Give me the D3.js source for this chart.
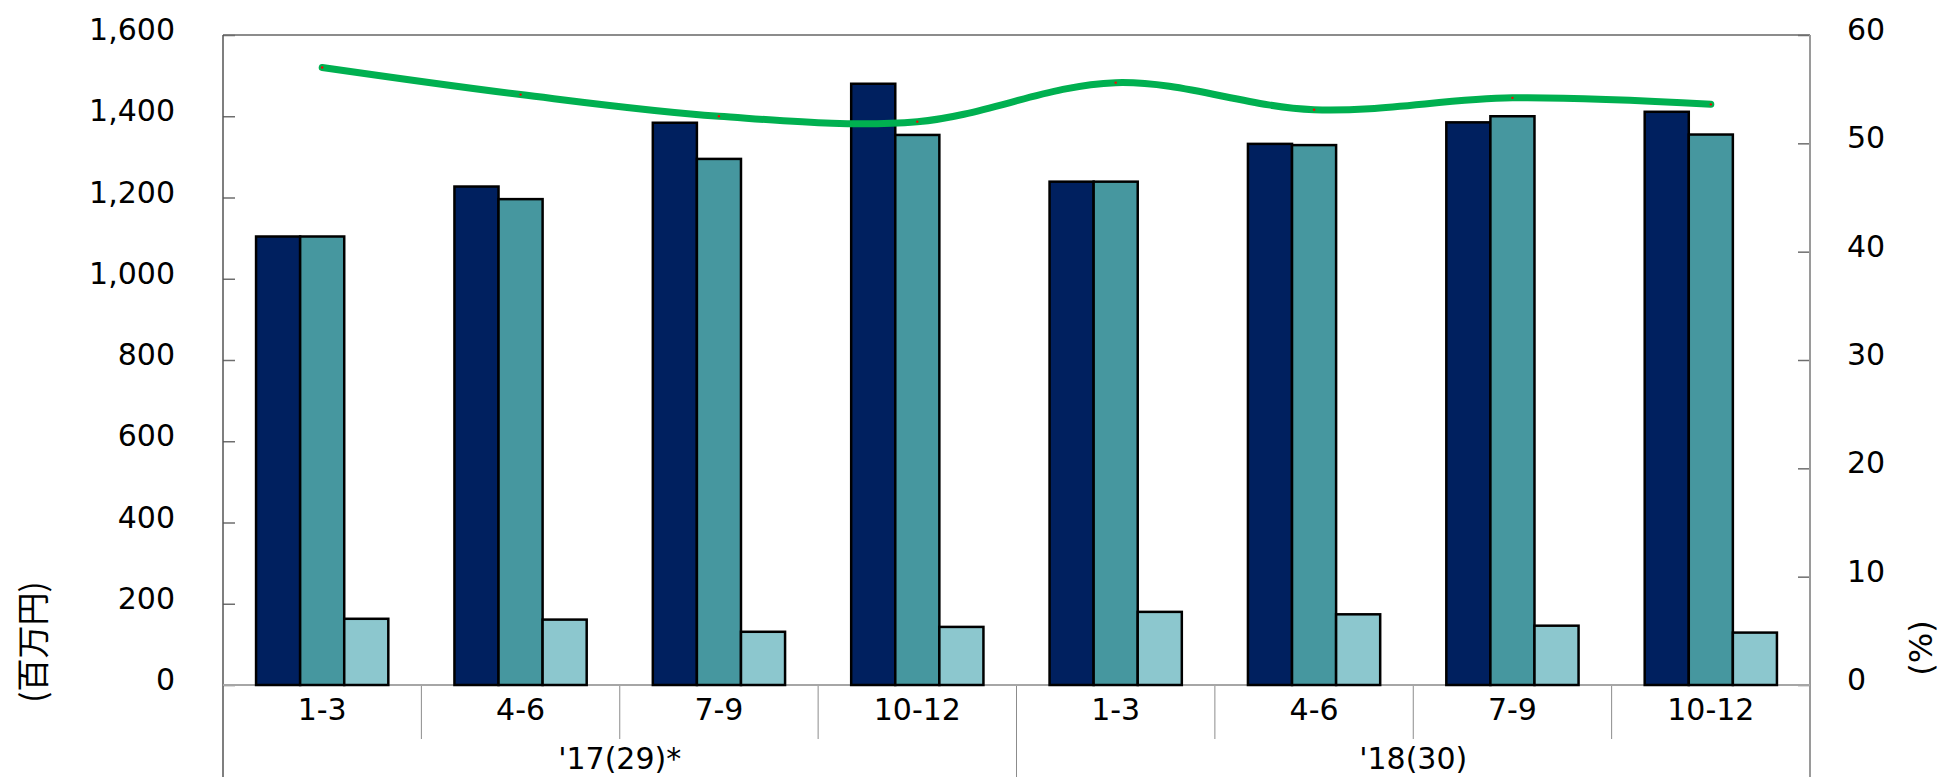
<!DOCTYPE html>
<html>
<head>
<meta charset="utf-8">
<script src="https://cdn.jsdelivr.net/npm/d3@7/dist/d3.min.js"></script>
<style>
  body { margin: 0; background: #fff; }
  text { font-family: "DejaVu Sans", Verdana, sans-serif; fill: #000; }
  .jp { font-family: "Noto Sans CJK JP", sans-serif; }
</style>
</head>
<body>
<div id="chart"></div>
<script>
// chart data
var quarters = ["1-3", "4-6", "7-9", "10-12", "1-3", "4-6", "7-9", "10-12"];
var years = ["'17(29)*", "'18(30)"];
var seriesA = [1104, 1227, 1384, 1480, 1239, 1332, 1385, 1411];
var seriesB = [1104, 1196, 1295, 1354, 1239, 1329, 1400, 1355];
var seriesC = [163, 161, 131, 143, 180, 174, 146, 129];
var ratio = [57.0, 54.5, 52.5, 52.0, 55.6, 53.1, 54.2, 53.6];
var leftTicks = [0, 200, 400, 600, 800, 1000, 1200, 1400, 1600];
var rightTicks = [0, 10, 20, 30, 40, 50, 60];

var svgWidth = 1942;
var svgHeight = 777;

var margin = { top: 35, right: 132, bottom: 92, left: 223 };
var width = svgWidth - margin.left - margin.right;
var height = svgHeight - margin.top - margin.bottom;

var colors = ["#00205f", "#46979f", "#8cc7ce"];

var svg = d3.select("#chart")
  .append("svg")
  .attr("width", svgWidth)
  .attr("height", svgHeight);

var chartGroup = svg.append("g")
  .attr("transform", `translate(${margin.left}, ${margin.top})`);

// scales
var x0 = d3.scaleBand()
  .domain(d3.range(quarters.length))
  .range([0, width])
  .padding(0);

var x1 = d3.scaleBand()
  .domain([0, 1, 2])
  .range([0, x0.bandwidth()])
  .paddingInner(0)
  .paddingOuter(0.75);

var yLeft = d3.scaleLinear().domain([0, 1600]).range([height, 0]);
var yRight = d3.scaleLinear().domain([0, 60]).range([height, 0]);

// frame: top border
chartGroup.append("line")
  .attr("x1", 0).attr("x2", width)
  .attr("y1", 0).attr("y2", 0)
  .attr("stroke", "#8c8c8c")
  .attr("stroke-width", 2);

// left axis
var leftAxis = d3.axisLeft(yLeft)
  .tickValues(leftTicks)
  .tickSize(-12)
  .tickPadding(48)
  .tickFormat(d3.format(","));

var gLeft = chartGroup.append("g").call(leftAxis);
gLeft.select(".domain").remove();
gLeft.selectAll("line").attr("stroke", "#6e6e6e").attr("stroke-width", 1.5);
gLeft.selectAll("text")
  .attr("y", -5)
  .style("font-size", "30px")
  .style("font-family", "'DejaVu Sans', sans-serif");
chartGroup.append("line")
  .attr("x1", 0).attr("x2", 0)
  .attr("y1", 0).attr("y2", height + 92)
  .attr("stroke", "#555")
  .attr("stroke-width", 1.5);

// right axis
var rightAxis = d3.axisRight(yRight)
  .tickValues(rightTicks)
  .tickSize(-12)
  .tickPadding(37)
  .tickFormat(d3.format("d"));

var gRight = chartGroup.append("g")
  .attr("transform", `translate(${width}, 0)`)
  .call(rightAxis);
gRight.select(".domain").remove();
gRight.selectAll("line").attr("stroke", "#6e6e6e").attr("stroke-width", 1.5);
gRight.selectAll("text")
  .attr("y", -5)
  .style("font-size", "30px")
  .style("font-family", "'DejaVu Sans', sans-serif");
chartGroup.append("line")
  .attr("x1", width).attr("x2", width)
  .attr("y1", 0).attr("y2", height + 92)
  .attr("stroke", "#9a9a9a")
  .attr("stroke-width", 2);

// category separators below the axis
chartGroup.selectAll(".sep")
  .data(d3.range(1, quarters.length))
  .enter()
  .append("line")
  .attr("class", "sep")
  .attr("x1", d => x0(d))
  .attr("x2", d => x0(d))
  .attr("y1", height)
  .attr("y2", d => d === 4 ? height + 92 : height + 54)
  .attr("stroke", "#8c8c8c")
  .attr("stroke-width", 1);

// baseline
chartGroup.append("line")
  .attr("x1", 0).attr("x2", width)
  .attr("y1", height).attr("y2", height)
  .attr("stroke", "#a6a6a6")
  .attr("stroke-width", 2);

// bars
var allSeries = [seriesA, seriesB, seriesC];
var groups = chartGroup.selectAll(".grp")
  .data(d3.range(quarters.length))
  .enter()
  .append("g")
  .attr("class", "grp")
  .attr("transform", i => `translate(${x0(i)}, 0)`);

groups.selectAll("rect")
  .data(i => allSeries.map((s, k) => ({ k: k, v: s[i] })))
  .enter()
  .append("rect")
  .attr("x", d => x1(d.k))
  .attr("y", d => yLeft(d.v))
  .attr("width", x1.bandwidth())
  .attr("height", d => height - yLeft(d.v))
  .attr("fill", d => colors[d.k])
  .attr("stroke", "#000")
  .attr("stroke-width", 2.5);

// ratio line
var line = d3.line()
  .x((d, i) => x0(i) + x0.bandwidth() / 2)
  .y(d => yRight(d))
  .curve(d3.curveCatmullRom.alpha(0.5));

chartGroup.append("path")
  .datum(ratio)
  .attr("d", line)
  .attr("fill", "none")
  .attr("stroke", "#00b050")
  .attr("stroke-width", 7)
  .attr("stroke-linecap", "round");

chartGroup.selectAll(".mk")
  .data(ratio)
  .enter()
  .append("circle")
  .attr("class", "mk")
  .attr("cx", (d, i) => x0(i) + x0.bandwidth() / 2)
  .attr("cy", d => yRight(d))
  .attr("r", 1.2)
  .attr("fill", "#ff0000");

// quarter labels
chartGroup.selectAll(".qlab")
  .data(quarters)
  .enter()
  .append("text")
  .attr("class", "qlab")
  .attr("x", (d, i) => x0(i) + x0.bandwidth() / 2)
  .attr("y", height + 35)
  .attr("text-anchor", "middle")
  .style("font-size", "30px")
  .text(d => d);

// year labels
chartGroup.selectAll(".ylab")
  .data(years)
  .enter()
  .append("text")
  .attr("class", "ylab")
  .attr("x", (d, i) => x0(i * 4) + x0.bandwidth() * 2)
  .attr("y", height + 84)
  .attr("text-anchor", "middle")
  .style("font-size", "30px")
  .text(d => d);

// axis titles
svg.append("text")
  .attr("class", "jp")
  .attr("transform", "translate(45, 642) rotate(-90)")
  .attr("text-anchor", "middle")
  .style("font-size", "33px")
  .text("(百万円)");

svg.append("text")
  .attr("transform", "translate(1932, 648) rotate(-90)")
  .attr("text-anchor", "middle")
  .style("font-size", "32px")
  .text("(%)");
</script>
</body>
</html>
